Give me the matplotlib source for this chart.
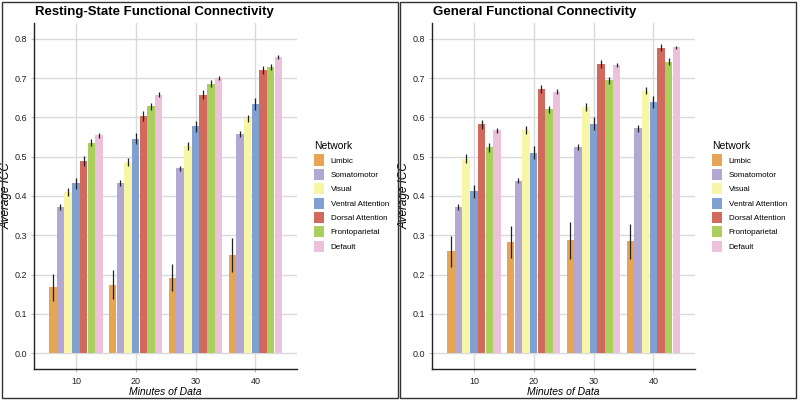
import matplotlib
matplotlib.use("Agg")
import matplotlib.pyplot as plt
import numpy as np
from matplotlib.patches import Rectangle, Patch

plt.rcParams["font.family"] = ["Liberation Sans", "DejaVu Sans"]

minutes = ["10", "20", "30", "40"]
networks = ["Limbic", "Somatomotor", "Visual", "Ventral Attention",
            "Dorsal Attention", "Frontoparietal", "Default"]
colors = ["#E5A553", "#B3A8D3", "#F6F6A6", "#7FA0D0", "#D2695D", "#AACF5C", "#EBC1DB"]

# Resting-state values: rows = networks, cols = minutes
rest_vals = [
    [0.168, 0.174, 0.192, 0.250],
    [0.372, 0.433, 0.470, 0.557],
    [0.410, 0.487, 0.528, 0.598],
    [0.432, 0.546, 0.577, 0.633],
    [0.489, 0.603, 0.658, 0.721],
    [0.536, 0.628, 0.685, 0.728],
    [0.554, 0.658, 0.701, 0.754],
]
rest_err = [
    [0.034, 0.037, 0.034, 0.043],
    [0.007, 0.007, 0.007, 0.008],
    [0.010, 0.010, 0.010, 0.009],
    [0.015, 0.015, 0.015, 0.015],
    [0.013, 0.012, 0.012, 0.010],
    [0.010, 0.009, 0.009, 0.008],
    [0.006, 0.006, 0.005, 0.005],
]
gen_vals = [
    [0.259, 0.283, 0.287, 0.285],
    [0.372, 0.439, 0.524, 0.572],
    [0.495, 0.568, 0.627, 0.668],
    [0.412, 0.510, 0.584, 0.639],
    [0.582, 0.673, 0.736, 0.777],
    [0.524, 0.620, 0.694, 0.742],
    [0.567, 0.665, 0.732, 0.778],
]
gen_err = [
    [0.039, 0.041, 0.047, 0.045],
    [0.007, 0.007, 0.008, 0.008],
    [0.011, 0.011, 0.010, 0.009],
    [0.016, 0.016, 0.016, 0.015],
    [0.012, 0.010, 0.010, 0.009],
    [0.011, 0.010, 0.009, 0.009],
    [0.006, 0.006, 0.005, 0.004],
]
titles = ["Resting-State Functional Connectivity", "General Functional Connectivity"]

fig = plt.figure(figsize=(8, 4), dpi=100)
fig.patch.set_facecolor("white")

# panel borders
for x0 in [0.003, 0.5]:
    fig.add_artist(Rectangle((x0, 0.005), 0.495, 0.99, transform=fig.transFigure,
                             fill=False, edgecolor="#333333", linewidth=1.0))

axes_left = [0.0425, 0.54]
for p, (vals, errs, title) in enumerate([(rest_vals, rest_err, titles[0]),
                                         (gen_vals, gen_err, titles[1])]):
    ax = fig.add_axes([axes_left[p], 0.0775, 0.329, 0.865])
    x = np.arange(1, len(minutes) + 1)
    n = len(networks)
    bw = 0.9 / n
    for i in range(n):
        pos = x - 0.45 + bw * (i + 0.5)
        ax.bar(pos, vals[i], width=bw * 0.97, color=colors[i], zorder=3,
               edgecolor="none", label=networks[i])
        ax.errorbar(pos, vals[i], yerr=errs[i], fmt="none", ecolor="#222222",
                    elinewidth=0.9, capsize=0, zorder=4)
    ax.set_xlim(0.3, 4.7)
    ax.set_ylim(-0.04, 0.84)
    ax.set_yticks(np.arange(0, 0.81, 0.1))
    ax.set_yticklabels([f"{v:.1f}" for v in np.arange(0, 0.81, 0.1)])
    ax.set_xticks(x)
    ax.set_xticklabels(minutes)
    ax.grid(True, color="#DADADA", linewidth=1.0, zorder=0)
    ax.set_axisbelow(True)
    for s in ["top", "right"]:
        ax.spines[s].set_visible(False)
    for s in ["left", "bottom"]:
        ax.spines[s].set_color("#222222")
        ax.spines[s].set_linewidth(1.0)
    ax.tick_params(axis="y", labelsize=6.5, length=2.5, color="#BBBBBB", pad=2.5,
                   labelcolor="#222222")
    ax.tick_params(axis="x", labelsize=6.5, length=2.5, color="#BBBBBB", pad=3,
                   labelcolor="#222222")
    ax.set_xlabel("Minutes of Data", fontsize=7.5, style="italic", labelpad=1)
    ax.set_ylabel("Average ICC", fontsize=8.5, style="italic")
    ax.yaxis.set_label_coords(-0.082, 0.5)
    fig.text(axes_left[p] + 0.001, 0.97, title, fontsize=9.5, fontweight="bold",
             ha="left", va="center")
    handles = [Patch(facecolor=c, edgecolor="none") for c in colors]
    leg = fig.legend(handles, networks, loc="upper left",
                     bbox_to_anchor=(axes_left[p] + 0.346, 0.655),
                     title="Network", fontsize=5.8, title_fontsize=7.5,
                     frameon=False, handlelength=1.25, handleheight=1.75,
                     labelspacing=0.4, handletextpad=0.8, borderaxespad=0)
    leg._legend_box.align = "left"

fig.savefig("out.png", dpi=100, facecolor="white")
